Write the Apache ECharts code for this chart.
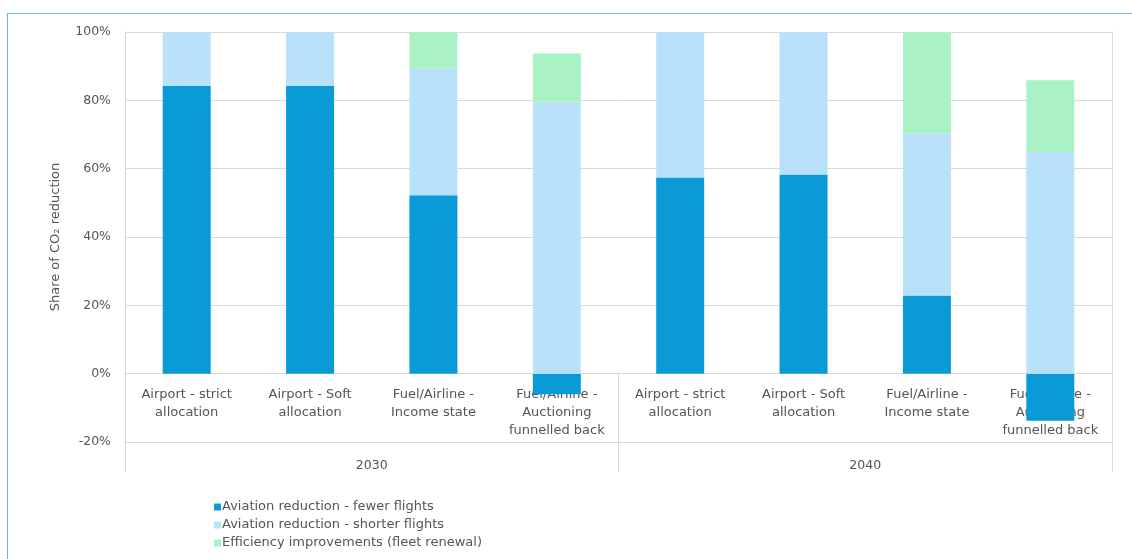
<!DOCTYPE html>
<html>
<head>
<meta charset="utf-8">
<script src="https://cdn.jsdelivr.net/npm/echarts@6/dist/echarts.min.js"></script>
<style>
html,body{margin:0;padding:0;background:#fff;}
#chart{width:1132px;height:559px;}
#frame{position:absolute;left:7px;top:13px;width:1140px;height:560px;border-left:1px solid #5bbde0;border-top:1px solid #5bbde0;pointer-events:none;}
</style>
</head>
<body>
<div id="chart"></div>
<div id="frame"></div>
<script>
const categories = [
  'Airport - strict\nallocation',
  'Airport - Soft\nallocation',
  'Fuel/Airline -\nIncome state',
  'Fuel/Airline -\nAuctioning\nfunnelled back',
  'Airport - strict\nallocation',
  'Airport - Soft\nallocation',
  'Fuel/Airline -\nIncome state',
  'Fuel/Airline -\nAuctioning\nfunnelled back'
];
const years = ['2030', '2040'];
const fewerFlights = [84.2, 84.2, 52.2, -6.0, 57.4, 58.3, 22.9, -13.8];
const shorterFlights = [15.8, 15.8, 37.1, 79.6, 42.6, 41.7, 47.4, 64.9];
const efficiency = [0, 0, 10.7, 14.1, 0, 0, 29.7, 21.0];
const yTicks = [-20, 0, 20, 40, 60, 80, 100];
const seriesNames = [
  'Aviation reduction - fewer flights',
  'Aviation reduction - shorter flights',
  'Efficiency improvements (fleet renewal)'
];

const font = 'DejaVu Sans';
const textColor = '#555555';
const lineColor = '#d9d9d9';

const W = 1132, H = 559;
const gridTop = 32, gridBottom = 117, gridLeft = 125, gridRight = 20;
const yMin = yTicks[0], yMax = yTicks[yTicks.length - 1];
const plotH = H - gridTop - gridBottom;
// distance from bottom of plot to the zero line
const zeroOffset = plotH * (0 - yMin) / (yMax - yMin);

const chart = echarts.init(document.getElementById('chart'));
chart.setOption({
  animation: false,
  textStyle: {fontFamily: font},
  grid: {left: gridLeft, right: gridRight, top: gridTop, bottom: gridBottom},
  legend: {
    orient: 'vertical', left: 209, top: 495, itemWidth: 7, itemHeight: 7, itemGap: 4,
    icon: 'rect',
    textStyle: {fontFamily: font, fontSize: 13, lineHeight: 14, color: textColor, padding: [0, 0, 0, -4]},
    data: seriesNames
  },
  xAxis: [
    {
      type: 'category', data: categories, position: 'bottom', offset: -zeroOffset,
      axisLine: {show: true, onZero: false, lineStyle: {color: lineColor}},
      axisTick: {show: false},
      axisLabel: {interval: 0, color: textColor, fontFamily: font, fontSize: 13, lineHeight: 18, margin: 12}
    },
    {
      type: 'category', data: years, position: 'bottom',
      axisLine: {show: true, onZero: false, lineStyle: {color: lineColor}},
      axisTick: {show: true, interval: 0, length: 30, lineStyle: {color: lineColor}},
      axisLabel: {color: textColor, fontFamily: font, fontSize: 12.5, margin: 17}
    },
    {
      type: 'category', data: years, position: 'bottom',
      axisLine: {show: false, onZero: false},
      axisTick: {show: true, inside: true, interval: 0, length: zeroOffset, lineStyle: {color: lineColor}},
      axisLabel: {show: false}
    }
  ],
  yAxis: [
    {
      type: 'value', min: yMin, max: yMax, interval: 20,
      name: 'Share of CO\u2082 reduction', nameLocation: 'middle', nameGap: 63, nameRotate: 90,
      nameTextStyle: {color: textColor, fontFamily: font, fontSize: 13},
      axisLine: {show: true, lineStyle: {color: lineColor}},
      axisTick: {show: false},
      axisLabel: {formatter: '{value}%', color: textColor, fontFamily: font, fontSize: 12.5, margin: 14},
      splitLine: {show: true, lineStyle: {color: lineColor}}
    },
    {
      type: 'value', position: 'right', min: yMin, max: yMax, interval: 20,
      axisLine: {show: true, lineStyle: {color: lineColor}},
      axisTick: {show: false}, axisLabel: {show: false}, splitLine: {show: false}
    }
  ],
  series: [
    {name: seriesNames[0], type: 'bar', stack: 'a', data: fewerFlights, barWidth: 48, itemStyle: {color: '#0a9bd7'}},
    {name: seriesNames[1], type: 'bar', stack: 'a', data: shorterFlights, barWidth: 48, itemStyle: {color: '#b9e2fa'}},
    {name: seriesNames[2], type: 'bar', stack: 'a', data: efficiency, barWidth: 48, itemStyle: {color: '#a9f2c6'}}
  ]
});
</script>
</body>
</html>
